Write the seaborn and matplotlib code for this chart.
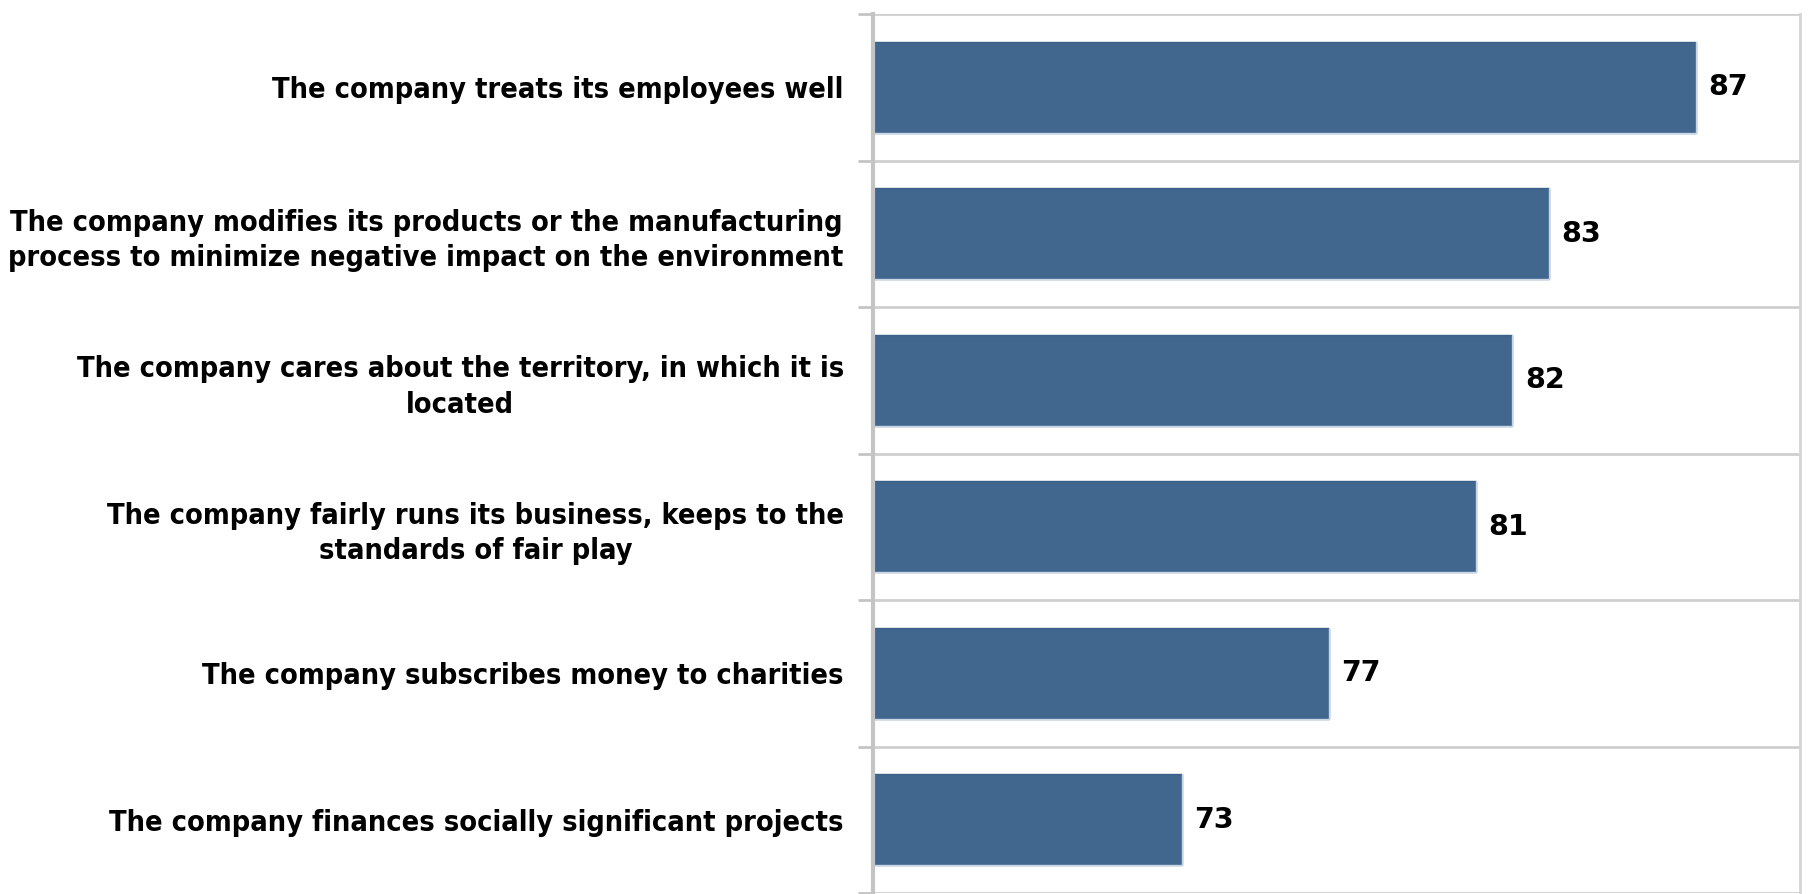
import matplotlib
matplotlib.use("Agg")
import matplotlib.pyplot as plt
import seaborn as sns
import pandas as pd
import numpy as np

# Survey statements and share of respondents agreeing (%)
statements = [
    "The company treats its employees well",
    "The company modifies its products or the manufacturing\nprocess to minimize negative impact on the environment",
    "The company cares about the territory, in which it is\nlocated",
    "The company fairly runs its business, keeps to the\nstandards of fair play",
    "The company subscribes money to charities",
    "The company finances socially significant projects",
]
scores = [87, 83, 82, 81, 77, 73]

df = pd.DataFrame({"statement": statements, "score": scores})

sns.set_theme(style="white")
plt.rcParams["font.family"] = ["DejaVu Sans"]

BAR = "#42678F"
GRID = "#CFCFCF"
AXIS = "#C4C4C4"

fig = plt.figure(figsize=(18.10, 8.94), dpi=100)
ax = fig.add_axes([873 / 1810, 1 / 894, (1800 - 873) / 1810, (893 - 14) / 894])

sns.barplot(data=df, x="score", y="statement", orient="h", color=BAR,
            saturation=1, width=0.62, edgecolor="#3B6089", linewidth=1.0, ax=ax)

# Thin highlight along the lower and right edges of each bar
for patch in ax.patches:
    x0, y0 = patch.get_x(), patch.get_y()
    w, h = patch.get_width(), patch.get_height()
    ax.plot([x0, x0 + w, x0 + w], [y0 + h, y0 + h, y0], color="#C9D6E6",
            linewidth=1.0, solid_joinstyle="miter", zorder=patch.get_zorder() + 0.1)

ax.set_xlim(64.6, 89.83)
ax.set_ylim(len(statements) - 0.5, -0.5)
ax.set_xlabel("")
ax.set_ylabel("")
ax.set_xticks([])

# Gridlines and ticks sit on the category boundaries
bounds = np.arange(-0.5, len(statements), 1.0)
ax.set_yticks(bounds, minor=True)
ax.grid(False)
ax.grid(True, which="minor", axis="y", color=GRID, linewidth=2)
ax.tick_params(axis="y", which="minor", length=11, width=2, color=AXIS, left=True)
ax.tick_params(axis="y", which="major", length=0, pad=21)

for lab in ax.get_yticklabels():
    lab.set_fontsize(20.7)
    lab.set_fontweight("bold")
    lab.set_fontstretch("condensed")
    lab.set_multialignment("center")
    lab.set_linespacing(1.34)
    lab.set_color("black")

for side in ["top", "bottom"]:
    ax.spines[side].set_visible(False)
ax.spines["left"].set_color(AXIS)
ax.spines["left"].set_linewidth(3)
ax.spines["right"].set_color("#D4D4D4")
ax.spines["right"].set_linewidth(2)

for container in ax.containers:
    ax.bar_label(container, labels=[f"{v:d}" for v in scores], padding=9,
                 fontsize=20.5, fontweight="bold", color="black")

fig.savefig("out.png", dpi=100, facecolor="white")
